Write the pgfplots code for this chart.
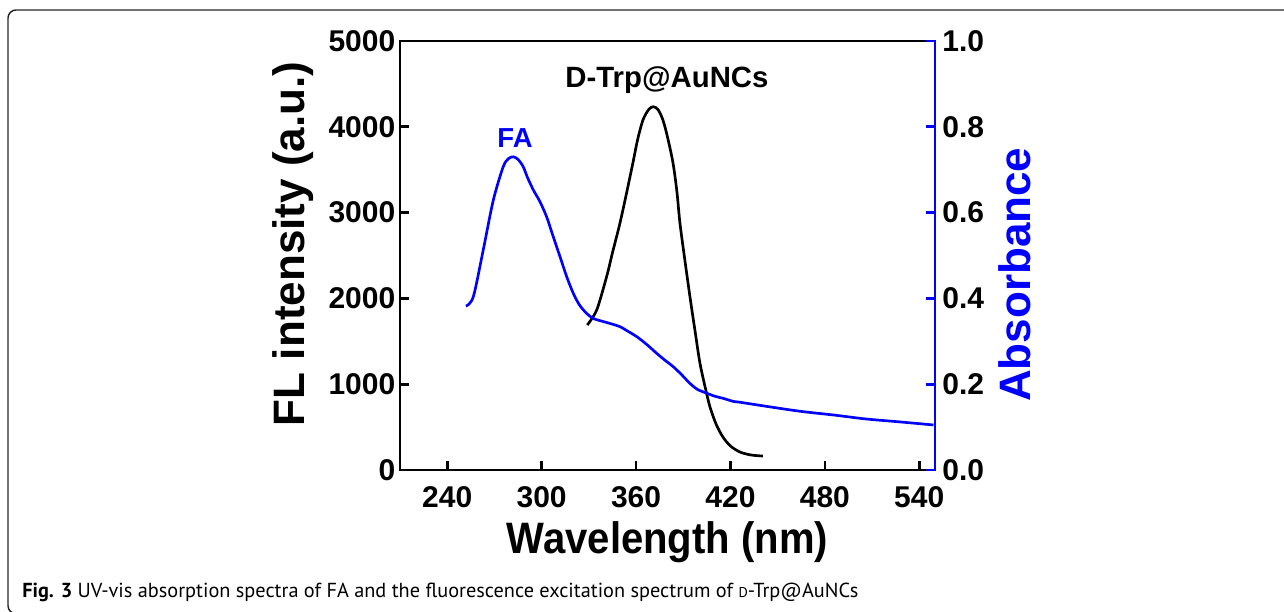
\documentclass[border=0pt]{standalone}
\usepackage{fontspec}
\setmainfont{Liberation Sans}
\newfontfamily\capfont{PT Sans}
\usepackage{pgfplots}
\pgfplotsset{compat=1.18}
\definecolor{fablue}{RGB}{0,0,255}
\newcommand{\tickfont}{\fontsize{22.5pt}{26pt}\selectfont\bfseries}
\newcommand{\labfont}{\fontsize{33pt}{38pt}\selectfont\bfseries}

\begin{document}
\begin{tikzpicture}
\useasboundingbox (0pt,0pt) rectangle (963pt,458.25pt);
\draw[line width=1.1pt, black!85, rounded corners=6pt] (6pt,-2pt) rectangle (990pt,450.75pt);

% FL excitation spectrum, left axis
\begin{axis}[
  at={(300pt,105.75pt)}, anchor=south west,
  scale only axis, width=401.25pt, height=321.75pt,
  xmin=210, xmax=550, ymin=0, ymax=5000,
  xtick={240,300,...,540}, ytick={0,1000,...,5000},
  xtick pos=left, ytick pos=left,
  xtick align=inside, ytick align=inside,
  major tick length=7pt,
  axis line style={line width=2pt, black},
  major tick style={line width=2pt, black},
  ticklabel style={font=\tickfont},
  xticklabel style={yshift=-9pt},
  /pgf/number format/assume math mode=true,
  /pgf/number format/1000 sep={},
  scaled y ticks=false,
  xlabel={\scalebox{0.91}[1]{Wavelength (nm)}},
  ylabel={FL intensity (a.u.)},
  xlabel style={at={(axis description cs:0.5,-0.168)}, anchor=center, font=\labfont},
  ylabel style={at={(axis description cs:-0.2,0.527)}, anchor=center, font=\labfont},
]
\addplot[black, line width=2pt, smooth, tension=0.5] coordinates {
  (329.0,1690) (335.0,1865) (341.3,2253) (345,2530) (349.8,2879) (354,3230)
  (358.0,3578) (361,3850) (364.4,4079) (368,4200) (370.9,4234) (374,4200)
  (377.1,4079) (380,3880) (383.5,3578) (386,3240) (387.9,2879) (391,2450)
  (394.3,2016) (397.5,1620) (400.6,1247) (404,960) (407.0,734) (411,530)
  (415.2,385) (420,280) (426.0,210) (433,175) (440.6,163)
};
\node[font=\fontsize{22pt}{26pt}\selectfont\bfseries] at (axis description cs:0.499,0.909) {D-Trp@AuNCs};
\node[font=\fontsize{20.6pt}{24pt}\selectfont\bfseries, text=fablue] at (axis description cs:0.215,0.774) {FA};
\end{axis}

% FA absorbance, right axis
\begin{axis}[
  at={(300pt,105.75pt)}, anchor=south west,
  scale only axis, width=401.25pt, height=321.75pt,
  xmin=210, xmax=550, ymin=0, ymax=1,
  axis x line=none, axis y line*=right,
  ytick={0,0.2,...,1.0},
  tick align=inside, major tick length=7pt,
  axis line style={line width=2pt, fablue},
  major tick style={line width=2pt, fablue},
  ticklabel style={font=\tickfont, text=black},
  yticklabel style={xshift=2pt, /pgf/number format/.cd, fixed, fixed zerofill, precision=1},
  /pgf/number format/assume math mode=true,
  ylabel={Absorbance},
  ylabel style={at={(axis description cs:1.15,0.455)}, anchor=center, font=\labfont, text=fablue},
]
\addplot[fablue, line width=2pt, smooth, tension=0.5] coordinates {
  (251.9,0.382) (256.6,0.404) (262.9,0.513) (269.3,0.629) (275.6,0.707)
  (279,0.726) (282.0,0.730) (285,0.724) (288.3,0.707) (291,0.682)
  (294.7,0.653) (299,0.625) (303.2,0.590) (307,0.548) (311.7,0.497)
  (316,0.450) (320.1,0.412) (324,0.385) (328.6,0.365) (333,0.353)
  (339.2,0.346) (344,0.341) (349.8,0.334) (355,0.323) (360.4,0.311)
  (367,0.292) (373.1,0.272) (378,0.257) (383.6,0.241) (389,0.222)
  (394.2,0.202) (399,0.188) (404.9,0.179) (410,0.172) (415.4,0.167)
  (421.7,0.160) (426,0.158) (440,0.150) (464,0.137) (486,0.128)
  (506,0.119) (528,0.112) (549,0.105)
};
\end{axis}

\node[anchor=west, inner sep=0pt] at (16.5pt,14.25pt) {\resizebox{627pt}{!}{\capfont\textbf{Fig. 3} UV-vis absorption spectra of FA and the fluorescence excitation spectrum of {\fontsize{7pt}{8pt}\selectfont D}-Trp@AuNCs}};
\end{tikzpicture}
\end{document}
